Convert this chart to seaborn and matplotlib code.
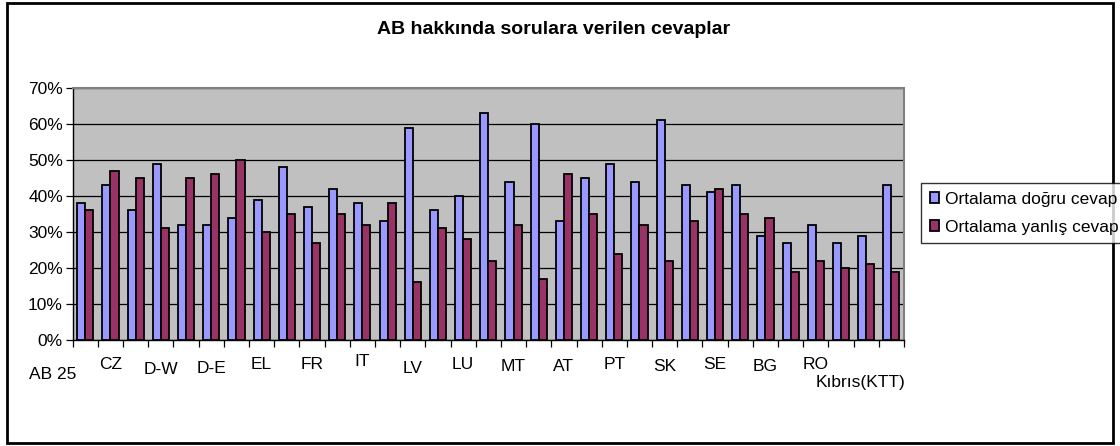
import numpy as np
import pandas as pd
import matplotlib
matplotlib.use("Agg")
import matplotlib.pyplot as plt
import seaborn as sns
from matplotlib.ticker import FixedLocator, PercentFormatter
from matplotlib.patches import Rectangle
from matplotlib.transforms import ScaledTranslation

# Data (percent)
tick_labels = ["AB 25", "CZ", "", "D-W", "", "D-E", "", "EL", "", "FR", "", "IT",
               "", "LV", "", "LU", "", "MT", "", "AT", "", "PT", "", "SK",
               "", "SE", "", "BG", "", "RO", "", "Kıbrıs(KTT)", ""]
dogru = [38, 43, 36, 49, 32, 32, 34, 39, 48, 37, 42, 38,
         33, 59, 36, 40, 63, 44, 60, 33, 45, 49, 44, 61,
         43, 41, 43, 29, 27, 32, 27, 29, 43]
yanlis = [36, 47, 45, 31, 45, 46, 50, 30, 35, 27, 35, 32,
          38, 16, 31, 28, 22, 32, 17, 46, 35, 24, 32, 22,
          33, 42, 35, 34, 19, 22, 20, 21, 19]
series_names = ["Ortalama doğru cevap", "Ortalama yanlış cevap"]
colors = ["#9999FF", "#993366"]

# label offsets below axis (points), to mimic the staggered Excel labels
label_pads = {0: 19.5, 1: 12.5, 3: 16, 5: 15, 7: 12.5, 9: 12.5, 11: 10, 13: 15,
              15: 12.5, 17: 13.5, 19: 13.5, 21: 12, 23: 13.5, 25: 12.5, 27: 13.5,
              29: 12.5, 31: 25.5}
# sideways nudges in pixels
label_shift = {0: -9, 31: -6}

n = len(dogru)
df = pd.DataFrame({
    "grup": list(range(n)) * 2,
    "deger": dogru + yanlis,
    "seri": [series_names[0]] * n + [series_names[1]] * n,
})

plt.rcParams["font.family"] = ["Liberation Sans", "DejaVu Sans"]

fig = plt.figure(figsize=(11.2, 4.46), dpi=100)
ax = fig.add_axes([72.7 / 1120, 1 - 340 / 446, (904 - 72.7) / 1120, (340 - 88) / 446])

sns.barplot(data=df, x="grup", y="deger", hue="seri", palette=colors,
            width=0.64, edgecolor="black", linewidth=1.3, saturation=1,
            ax=ax, zorder=3)

ax.set_facecolor("#C0C0C0")
ax.set_ylim(0, 70)
ax.set_xlim(-0.5, n - 0.5)
ax.yaxis.set_major_locator(FixedLocator(np.arange(0, 71, 10)))
ax.yaxis.set_major_formatter(PercentFormatter(decimals=0))
ax.grid(axis="y", color="black", linewidth=0.9, zorder=1)
ax.set_axisbelow(True)

ax.set_xticks(range(n))
ax.set_xticklabels(tick_labels)
ax.set_xticks(np.arange(-0.5, n, 1), minor=True)
ax.tick_params(axis="x", which="major", length=0, labelsize=12.5)
ax.tick_params(axis="x", which="minor", length=5, width=0.9, color="black", direction="out")
ax.tick_params(axis="y", length=5, width=0.9, labelsize=12.5, pad=2, color="black")
for i, tick in enumerate(ax.xaxis.get_major_ticks()):
    if i in label_pads:
        tick.set_pad(label_pads[i])
    if i in label_shift:
        lab = tick.label1
        lab.set_transform(lab.get_transform() +
                          ScaledTranslation(label_shift[i] / 100, 0, fig.dpi_scale_trans))
ax.get_xticklabels()[0].set_ha("right")

ax.set_xlabel("")
ax.set_ylabel("")
for s in ["top", "right"]:
    ax.spines[s].set_color("#808080")
    ax.spines[s].set_linewidth(1.5)
for s in ["left", "bottom"]:
    ax.spines[s].set_color("black")
    ax.spines[s].set_linewidth(1.0)

handles, labels = ax.get_legend_handles_labels()
ax.get_legend().remove()
fig.legend(handles, labels, loc="upper left", bbox_to_anchor=(921 / 1120, 1 - 183 / 446),
           fontsize=12.5, frameon=True, fancybox=False, edgecolor="black",
           handlelength=0.55, handleheight=0.55, handletextpad=0.35,
           borderpad=0.5, labelspacing=0.75, borderaxespad=0)

fig.text(554 / 1120, 1 - 30 / 446, "AB hakkında sorulara verilen cevaplar",
         ha="center", va="center", fontsize=14, fontweight="bold")

fig.patches.append(Rectangle((7 / 1120, 3 / 446), 1106 / 1120, 440 / 446,
                             transform=fig.transFigure, fill=False,
                             edgecolor="black", linewidth=2))

fig.savefig("out.png", dpi=100)
